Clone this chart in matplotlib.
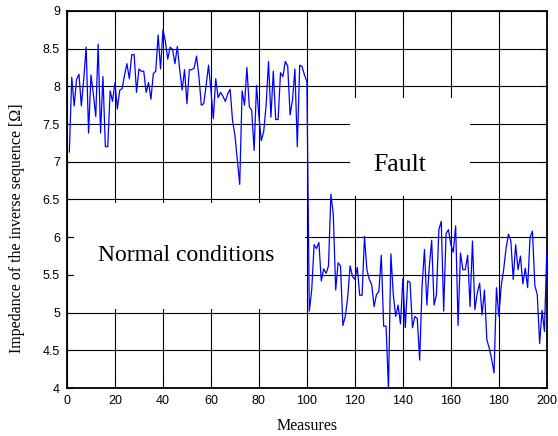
import numpy as np
import matplotlib.pyplot as plt
from matplotlib.patches import Rectangle

# Измерения 1..100 - нормальный режим
normal = [7.13, 8.12, 7.74, 8.09, 8.16, 7.74, 8.1, 8.52, 7.38, 8.15,
          7.9, 7.6, 8.56, 7.38, 8.13, 7.2, 7.2, 7.94, 7.8, 8.05,
          7.7, 7.95, 7.97, 8.15, 8.3, 8.1, 8.42, 8.42, 7.92, 8.23,
          8.2, 8.2, 7.92, 8.05, 7.83, 8.17, 8.2, 8.68, 8.23, 8.75,
          8.6, 8.36, 8.52, 8.49, 8.3, 8.53, 8.22, 7.95, 8.22, 7.77,
          8.22, 8.22, 8.24, 8.4, 8.13, 7.75, 7.77, 8.01, 8.28, 7.95,
          7.57, 8.1, 7.85, 7.92, 7.87, 7.8, 7.9, 7.96, 7.55, 7.35,
          7.02, 6.7, 7.94, 7.75, 8.25, 7.73, 7.68, 7.15, 8.01, 7.6,
          7.28, 7.4, 7.75, 8.33, 7.59, 8.2, 7.56, 7.56, 8.18, 8.13,
          8.33, 8.27, 7.62, 7.82, 8.23, 7.2, 8.28, 8.26, 8.15, 8.06]

# Измерения 101..200 - авария
fault = [5.02, 5.3, 5.9, 5.85, 5.93, 5.42, 5.58, 5.52, 5.62, 6.57,
         6.3, 5.3, 5.66, 5.62, 4.83, 4.95, 5.2, 5.62, 5.48, 5.44,
         5.6, 5.23, 5.23, 6.01, 5.57, 5.44, 5.37, 5.08, 5.24, 5.28,
         5.76, 4.82, 4.82, 3.98, 5.78, 5.24, 4.95, 5.1, 4.85, 5.45,
         4.8, 5.42, 5.4, 4.8, 4.95, 4.92, 4.37, 5.35, 5.84, 5.1,
         5.6, 5.96, 5.1, 5.24, 6.1, 6.21, 5.02, 6.05, 6.1, 5.9,
         5.8, 6.15, 4.83, 5.79, 5.57, 5.57, 5.76, 5.08, 5.95, 5.04,
         5.26, 5.39, 4.97, 5.3, 4.64, 4.53, 4.38, 4.2, 5.33, 4.95,
         5.36, 5.57, 5.85, 6.04, 5.95, 5.44, 5.9, 5.57, 5.75, 5.38,
         5.59, 5.33, 6.0, 6.08, 5.36, 5.24, 4.59, 5.03, 4.75, 5.84]

values = np.array(normal + fault)
x = np.arange(1, len(values) + 1)

xticks = np.arange(0, 201, 20)
yticks = np.arange(4, 9.01, 0.5)
ytick_labels = ['4', '4.5', '5', '5.5', '6', '6.5', '7', '7.5', '8', '8.5', '9']

fig = plt.figure(figsize=(5.58, 4.36), dpi=100)
ax = fig.add_axes([0.12, 0.11, 0.86, 0.865])

ax.plot(x, values, color='blue', linewidth=0.9, zorder=3)

ax.set_xlim(0, 200)
ax.set_ylim(4, 9)
ax.set_xticks(xticks)
ax.set_yticks(yticks)
ax.set_yticklabels(ytick_labels)
ax.grid(True, color='black', linewidth=0.8, zorder=1)
ax.set_axisbelow(True)
ax.tick_params(direction='in', top=True, right=True, length=4,
               labelsize=9, pad=5)
for lab in ax.get_xticklabels() + ax.get_yticklabels():
    lab.set_fontfamily('Liberation Sans')
for s in ax.spines.values():
    s.set_linewidth(1.3)

# белые подложки под подписями
ax.add_patch(Rectangle((3, 5.05), 96, 1.4, facecolor='white',
                       edgecolor='none', zorder=2))
ax.add_patch(Rectangle((118, 6.55), 50, 1.3, facecolor='white',
                       edgecolor='none', zorder=2))

ax.text(49.5, 5.76, 'Normal conditions', fontsize=17, family='Liberation Serif',
        ha='center', va='center', zorder=4)
ax.text(138.7, 6.96, 'Fault', fontsize=18.5, family='Liberation Serif',
        ha='center', va='center', zorder=4)

ax.set_xlabel('Measures', fontsize=11.5, family='Liberation Serif', labelpad=8)
ax.set_ylabel('Impedance of the inverse sequence [Ω]', fontsize=11.5,
              family='Liberation Serif')
ax.yaxis.set_label_coords(-0.088, 0.424)

fig.savefig('out.png', dpi=100)
